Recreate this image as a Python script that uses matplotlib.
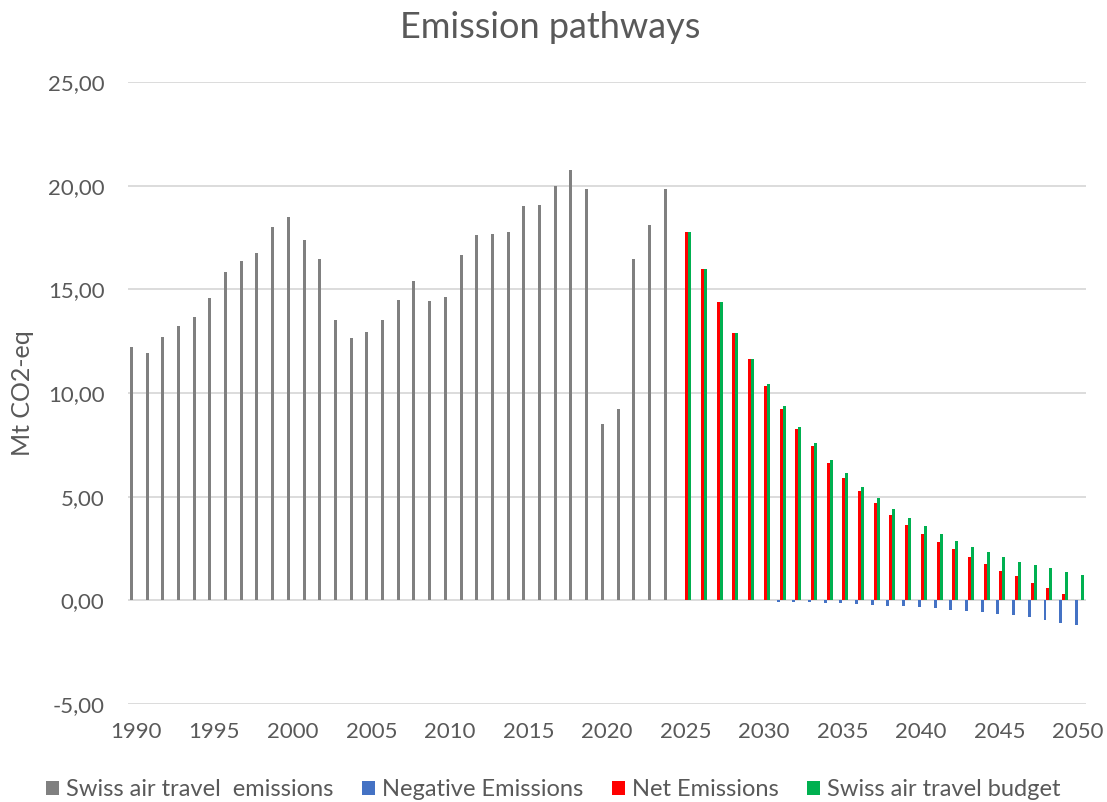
import numpy as np
import matplotlib
matplotlib.use('Agg')
import matplotlib.pyplot as plt

plt.rcParams['font.family'] = ['Lato', 'DejaVu Sans']

# historic Swiss air travel emissions, Mt CO2-eq
hist_years = list(range(1990, 2025))
hist_emissions = [12.21, 11.95, 12.71, 13.24, 13.68, 14.59, 15.83, 16.38, 16.75, 17.99,
                  18.47, 17.36, 16.44, 13.51, 12.65, 12.92, 13.51, 14.48, 15.40, 14.43,
                  14.64, 16.64, 17.60, 17.66, 17.78, 19.00, 19.07, 19.98, 20.74, 19.82,
                  8.49, 9.25, 16.44, 18.10, 19.82]

# pathway 2025-2050
path_years = list(range(2025, 2051))
negative = [0, 0, 0, 0, 0, 0, -0.08, -0.09, -0.10, -0.13,
            -0.15, -0.18, -0.24, -0.26, -0.28, -0.33, -0.39, -0.45, -0.50, -0.57,
            -0.66, -0.71, -0.81, -0.94, -1.08, -1.20]
net = [17.78, 15.99, 14.37, 12.90, 11.62, 10.33, 9.25, 8.27, 7.42, 6.61,
       5.91, 5.26, 4.67, 4.12, 3.64, 3.22, 2.83, 2.46, 2.09, 1.77,
       1.43, 1.18, 0.85, 0.58, 0.31, 0.0]
budget = [17.78, 15.99, 14.37, 12.90, 11.62, 10.44, 9.36, 8.38, 7.58, 6.78,
          6.13, 5.47, 4.94, 4.41, 3.98, 3.59, 3.20, 2.88, 2.58, 2.35,
          2.09, 1.87, 1.71, 1.54, 1.39, 1.24]

labels = ['Swiss air travel  emissions', 'Negative Emissions', 'Net Emissions', 'Swiss air travel budget']
colors = ['#808080', '#4472C4', '#FF0000', '#00B050']
txt = '#595959'

fig = plt.figure(figsize=(11.07, 8.02), dpi=100)
ax = fig.add_axes([0.1156, 0.1222, 0.8652, 0.7756])

w = 0.19
hy = np.array(hist_years)
py = np.array(path_years)
ax.bar(hy - 1.5 * w, hist_emissions, w, color=colors[0], label=labels[0], zorder=3)
ax.bar(py - 0.5 * w, negative, w, color=colors[1], label=labels[1], zorder=3)
ax.bar(py + 0.5 * w, net, w, color=colors[2], label=labels[2], zorder=3)
ax.bar(py + 1.5 * w, budget, w, color=colors[3], label=labels[3], zorder=3)

ax.set_xlim(1989.5, 2050.5)
ax.set_ylim(-5, 25)
ax.set_yticks(np.arange(-5, 26, 5))
ax.set_yticklabels([('%.2f' % v).replace('.', ',') for v in np.arange(-5, 26, 5)])
ax.set_xticks(range(1990, 2051, 5))
ax.grid(axis='y', color='#D9D9D9', linewidth=1.3, zorder=0)
for s in ax.spines.values():
    s.set_visible(False)
ax.tick_params(axis='both', length=0, labelsize=16, labelcolor=txt)
ax.tick_params(axis='x', pad=13)
ax.tick_params(axis='y', pad=17)

fig.text(0.497, 1 - 28 / 802, 'Emission pathways', ha='center', va='center', fontsize=26, color=txt)
fig.text(22 / 1107, 1 - 393 / 802, 'Mt CO2-eq', rotation=90, ha='center', va='center', fontsize=18, color=txt)

leg = fig.legend(loc='center', bbox_to_anchor=(0.5, 1 - 790 / 802), ncol=4, frameon=False,
                 fontsize=17, handlelength=0.55, handleheight=0.55, handletextpad=0.3,
                 columnspacing=1.2)
for t in leg.get_texts():
    t.set_color(txt)

plt.savefig('out.png', dpi=100)
